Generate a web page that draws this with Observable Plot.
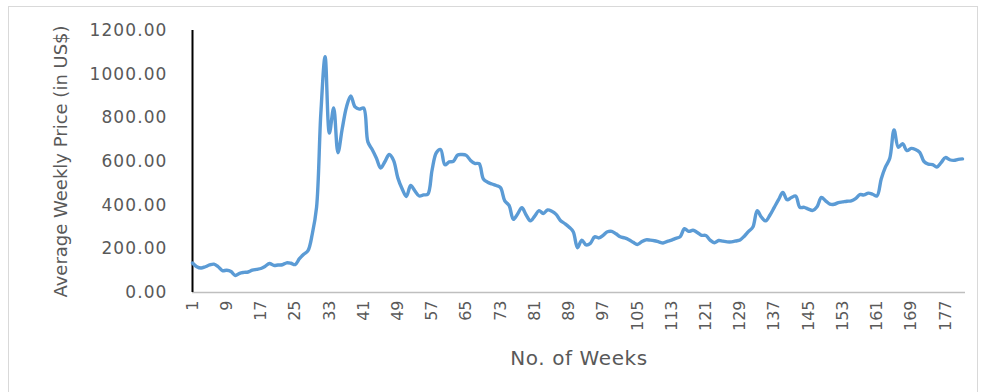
<!DOCTYPE html>
<html>
<head>
<meta charset="utf-8">
<script src="https://cdn.jsdelivr.net/npm/d3@7"></script>
<script src="https://cdn.jsdelivr.net/npm/@observablehq/plot@0.6"></script>
<style>
  html, body { margin: 0; padding: 0; background: #fff; }
  #wrap { position: relative; width: 985px; height: 392px; overflow: hidden; }
  #frame { position: absolute; left: 8px; top: 6px; width: 970px; height: 392px; border: 1px solid #d9d9d9; box-sizing: border-box; }
  #chart { position: absolute; left: 0; top: 0; }
</style>
</head>
<body>
<div id="wrap"><div id="frame"></div><div id="chart"></div></div>
<script>
const prices = [
  135, 118, 112, 118, 126, 130, 118, 100, 102, 96,
  78, 88, 92, 94, 102, 106, 110, 120, 133, 124,
  126, 127, 136, 134, 128, 155, 175, 192, 268, 390,
  820, 1080, 730, 845, 640, 750, 850, 900, 850, 840,
  845, 690, 655, 615, 570, 600, 632, 605, 525, 475,
  440, 490, 465, 442, 447, 450, 560, 640, 655, 585,
  598, 601, 630, 632, 628, 605, 591, 590, 520, 505,
  497, 490, 480, 420, 399, 335, 360, 388, 355, 328,
  350, 375, 362, 378, 372, 358, 330, 316, 300, 278,
  205, 240, 218, 225, 255, 250, 262, 278, 280, 269,
  255, 250, 242, 230, 220, 232, 241, 240, 237, 232,
  227, 234, 240, 248, 255, 292, 280, 285, 275, 262,
  261, 240, 228, 238, 235, 232, 232, 236, 241, 258,
  280, 300, 375, 345, 328, 355, 390, 425, 458, 425,
  435, 442, 390, 390, 382, 376, 393, 435, 420, 405,
  404, 412, 415, 418, 420, 430, 448, 447, 455, 450,
  442, 520, 575, 615, 745, 665, 682, 650, 660, 655,
  642, 600, 588, 586, 575, 595, 618, 608, 605, 610,
  612
];
const weeks = prices.map((_, i) => i + 1);
const xTicks = [1, 9, 17, 25, 33, 41, 49, 57, 65, 73, 81, 89, 97, 105, 113, 121, 129, 137, 145, 153, 161, 169, 177];
const yTicks = [0, 200, 400, 600, 800, 1000, 1200];

const data = weeks.map((w, i) => ({week: w, price: prices[i]}));

const chart = Plot.plot({
  width: 985,
  height: 392,
  marginLeft: 192,
  marginRight: 20,
  marginTop: 30,
  marginBottom: 100,
  style: {fontFamily: "DejaVu Sans", fontSize: "16px", color: "#595959", background: "transparent"},
  x: {domain: [1, 181], range: [192, 962]},
  y: {domain: [0, 1200]},
  marks: [
    Plot.ruleY([0], {stroke: "#bfbfbf", strokeWidth: 1.5}),
    Plot.axisY({ticks: yTicks, tickSize: 0, tickPadding: 25, tickFormat: d => d.toFixed(2),
      label: "Average Weekly Price (in US$)", labelAnchor: "center", labelArrow: "none", labelOffset: 138, fontSize: 17}),
    Plot.axisX({ticks: xTicks, tickSize: 0, tickPadding: 8, tickRotate: -90, tickFormat: d => String(d),
      label: "No. of Weeks", labelAnchor: "center", labelArrow: "none", labelOffset: 72, fontSize: 16}),
    Plot.ruleX([1], {stroke: "black", strokeWidth: 2}),
    Plot.line(data, {x: "week", y: "price", stroke: "#5B9BD5", strokeWidth: 3.4, curve: "catmull-rom"})
  ]
});
document.getElementById("chart").appendChild(chart);

// Text sizing tweaks to mimic the wide Calibri look of the reference
const svg = d3.select(chart.tagName === "svg" ? chart : chart.querySelector("svg"));
svg.selectAll("g[aria-label='y-axis tick label'] text").style("letter-spacing", "1.1px");
svg.selectAll("g[aria-label='y-axis label'] text").style("font-size", "18px");
svg.selectAll("g[aria-label='x-axis label'] text").style("font-size", "20px").style("letter-spacing", "0.6px");
</script>
</body>
</html>
